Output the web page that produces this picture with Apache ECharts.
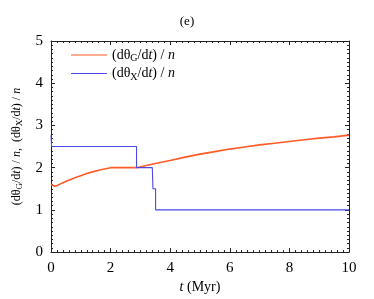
<!DOCTYPE html>
<html>
<head>
<meta charset="utf-8">
<script src="https://cdn.jsdelivr.net/npm/echarts@6/dist/echarts.min.js"></script>
<style>html,body{margin:0;padding:0;background:#fff}#c{width:374px;height:299px}</style>
</head>
<body>
<div id="c"></div>
<script>
// Data
var tG = [0, 0.06, 0.12, 0.2, 0.3, 0.42, 0.55, 0.7, 0.85, 1.0, 1.2, 1.4, 1.6, 1.8, 2.0, 2.87, 3.2, 3.5, 4.0, 4.5, 5, 5.5, 6, 6.5, 7, 7.5, 8, 8.5, 9, 9.5, 10];
var thetaG = [1.60, 1.57, 1.56, 1.58, 1.61, 1.65, 1.69, 1.73, 1.77, 1.81, 1.86, 1.90, 1.94, 1.97, 2.00, 2.00, 2.05, 2.10, 2.17, 2.25, 2.32, 2.38, 2.44, 2.49, 2.54, 2.58, 2.62, 2.66, 2.70, 2.73, 2.77];
var tX = [0, 0.02, 2.87, 2.87, 3.40, 3.42, 3.51, 3.51, 10];
var thetaX = [2.77, 2.5, 2.5, 2.0, 2.0, 1.5, 1.5, 1.0, 1.0];
var xTicks = [0, 2, 4, 6, 8, 10];
var yTicks = [0, 1, 2, 3, 4, 5];

var serif = 'Liberation Serif';
function pairs(a, b) { return a.map(function (v, i) { return [v, b[i]]; }); }
function makeRich(fs, sfs, pad) {
  return {
    it: { fontStyle: 'italic', fontFamily: serif, fontSize: fs, color: '#000' },
    sub: { fontFamily: serif, fontSize: sfs, color: '#000', verticalAlign: 'bottom', padding: [pad, 0, 0, 0] },
    n: { fontFamily: serif, fontSize: fs, color: '#000' }
  };
}
var rich = makeRich(14, 10, 7);
var richY = makeRich(12, 9, 6);
var frameColor = '#222';
function axisCommon(showLabel) {
  return {
    axisLine: { show: true, onZero: false, lineStyle: { color: frameColor, width: 1 } },
    axisTick: { show: true, inside: true, length: 4, lineStyle: { color: frameColor } },
    minorTick: { show: true, splitNumber: 10, length: 2, lineStyle: { color: frameColor } },
    splitLine: { show: false },
    axisLabel: { show: showLabel, fontFamily: serif, fontSize: 15, color: '#000' }
  };
}
var chart = echarts.init(document.getElementById('c'));
var xb = Object.assign(axisCommon(true), {
  type: 'value', min: 0, max: 10, interval: 2, position: 'bottom',
  name: '{it|t}{n| (Myr)}', nameLocation: 'middle', nameGap: 27,
  nameTextStyle: { rich: rich }
});
xb.axisLabel.margin = 8;
xb.axisLabel.formatter = function (v) { return xTicks.indexOf(v) >= 0 ? String(v) : ''; };
var xt = Object.assign(axisCommon(false), { type: 'value', min: 0, max: 10, interval: 2, position: 'top' });
var yl = Object.assign(axisCommon(true), {
  type: 'value', min: 0, max: 5, interval: 1, position: 'left',
  name: '{n|(dθ}{sub|G}{n|/d}{it|t}{n|) / }{it|n}{n|,  (dθ}{sub|X}{n|/d}{it|t}{n|) / }{it|n}',
  nameLocation: 'middle', nameGap: 27, nameRotate: 90,
  nameTextStyle: { rich: richY }
});
yl.axisLabel.margin = 8;
yl.axisLabel.formatter = function (v) { return yTicks.indexOf(v) >= 0 ? String(v) : ''; };
var yr = Object.assign(axisCommon(false), { type: 'value', min: 0, max: 5, interval: 1, position: 'right' });

chart.setOption({
  animation: false,
  title: { text: '(e)', left: 'center', top: 10, textStyle: { fontFamily: serif, fontSize: 13, fontWeight: 'normal', color: '#000' } },
  grid: { left: 51, right: 25, top: 41, bottom: 45 },
  legend: {
    left: 66, top: 43, orient: 'vertical', itemWidth: 36, itemHeight: 10, itemGap: 3,
    icon: 'path://M0,4.5L36,4.5L36,5.5L0,5.5Z',
    textStyle: { rich: rich, fontFamily: serif, fontSize: 14, color: '#000' },
    formatter: function (name) {
      return name === 'G' ? '{n|(dθ}{sub|G}{n|/d}{it|t}{n|) / }{it|n}' : '{n|(dθ}{sub|X}{n|/d}{it|t}{n|) / }{it|n}';
    },
    data: [{ name: 'G', itemStyle: { color: '#ff5a28' } }, { name: 'X', itemStyle: { color: '#4a4ae6' } }]
  },
  xAxis: [xb, xt],
  yAxis: [yl, yr],
  series: [
    { name: 'G', type: 'line', data: pairs(tG, thetaG), showSymbol: false, lineStyle: { color: '#ff5a28', width: 1.6 }, itemStyle: { color: '#ff5a28' } },
    { name: 'X', type: 'line', data: pairs(tX, thetaX), showSymbol: false, lineStyle: { color: '#4a4ae6', width: 1.1 }, itemStyle: { color: '#4a4ae6' } }
  ]
});
</script>
</body>
</html>
